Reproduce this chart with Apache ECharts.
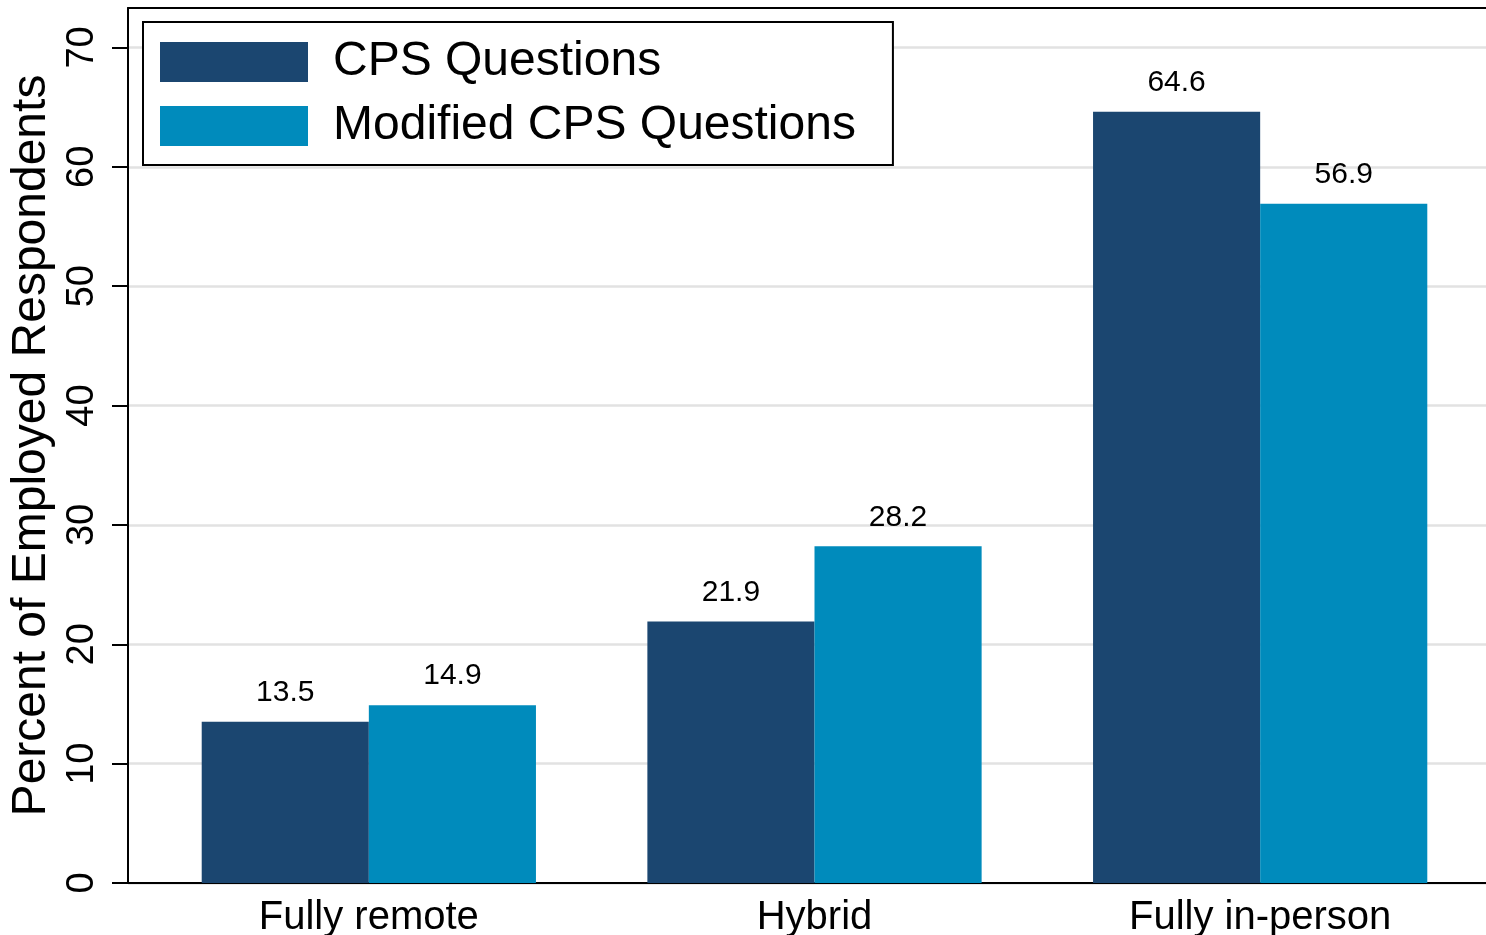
<!DOCTYPE html>
<html>
<head>
    <meta charset="utf-8"/>
    <title>ECharts</title>
    <script src="https://cdn.jsdelivr.net/npm/echarts@6/dist/echarts.min.js"></script>
    <style type="text/css">
        html, body { margin: 0; padding: 0; background: #fff; }
        #main { width: 1486px; height: 935px; }
    </style>
</head>
<body>
<div id="main"></div>
<script type="text/javascript">
    var categories = ['Fully remote', 'Hybrid', 'Fully in-person'];
    var cpsValues = [13.5, 21.9, 64.6];
    var modifiedValues = [14.9, 28.2, 56.9];
    var yTicks = [0, 10, 20, 30, 40, 50, 60, 70];
    var seriesNames = ['CPS Questions', 'Modified CPS Questions'];

    var font = 'Liberation Sans, Arial, Helvetica, sans-serif';
    var yMax = 73.3;

    var myChart = echarts.init(document.getElementById('main'));

    var option = {
        backgroundColor: '#fff',
        animation: false,
        textStyle: { fontFamily: font, color: '#000' },
        legend: {
            orient: 'vertical',
            left: 143,
            top: 22,
            z: 10,
            backgroundColor: '#fff',
            borderColor: '#000',
            borderWidth: 2,
            borderRadius: 0,
            padding: [16, 37, 15, 17],
            itemWidth: 148,
            itemHeight: 40,
            itemGap: 16,
            icon: 'rect',
            selectedMode: false,
            textStyle: { fontFamily: font, fontSize: 48, lineHeight: 42, color: '#000', padding: [6, 0, 0, 20] },
            data: seriesNames
        },
        grid: [
            { left: 128, right: -2, top: 8, bottom: 52, outerBoundsMode: 'none' },
            { left: 146, right: 3, top: 8, bottom: 52, outerBoundsMode: 'none' }
        ],
        xAxis: [
            {   // bottom frame line
                gridIndex: 0, type: 'value', min: 0, max: 1, position: 'bottom',
                axisLine: { show: true, lineStyle: { color: '#000', width: 2 } },
                axisTick: { show: false }, axisLabel: { show: false }, splitLine: { show: false }
            },
            {   // top frame line
                gridIndex: 0, type: 'value', min: 0, max: 1, position: 'top',
                axisLine: { show: true, lineStyle: { color: '#000', width: 2 } },
                axisTick: { show: false }, axisLabel: { show: false }, splitLine: { show: false }
            },
            {
                gridIndex: 1, type: 'category', data: categories,
                axisLine: { show: false }, axisTick: { show: false },
                axisLabel: { fontFamily: font, fontSize: 40, color: '#000', margin: 15 }
            }
        ],
        yAxis: [
            {
                gridIndex: 0, type: 'value', min: 0, max: yMax, interval: 10,
                name: 'Percent of Employed Respondents',
                nameLocation: 'middle',
                nameGap: 72,
                nameTextStyle: { fontFamily: font, fontSize: 48, color: '#000' },
                axisLine: { show: true, lineStyle: { color: '#000', width: 2 } },
                axisTick: { show: true, length: 16, customValues: yTicks, lineStyle: { color: '#000', width: 2 } },
                axisLabel: { rotate: 90, fontFamily: font, fontSize: 38, color: '#000', margin: 26, customValues: yTicks },
                splitLine: { show: true, lineStyle: { color: '#e2e2e2', width: 2.5 } }
            },
            {
                gridIndex: 1, type: 'value', min: 0, max: yMax, show: false
            }
        ],
        series: [
            {
                name: seriesNames[0],
                type: 'bar',
                xAxisIndex: 2,
                yAxisIndex: 1,
                barGap: '0%',
                barCategoryGap: '25%',
                itemStyle: { color: '#1b4670' },
                label: { show: true, position: 'top', distance: 14, fontFamily: font, fontSize: 30, color: '#000' },
                data: cpsValues
            },
            {
                name: seriesNames[1],
                type: 'bar',
                xAxisIndex: 2,
                yAxisIndex: 1,
                barGap: '0%',
                barCategoryGap: '25%',
                itemStyle: { color: '#008bbc' },
                label: { show: true, position: 'top', distance: 14, fontFamily: font, fontSize: 30, color: '#000' },
                data: modifiedValues
            }
        ]
    };
    myChart.setOption(option);
</script>
</body>
</html>
